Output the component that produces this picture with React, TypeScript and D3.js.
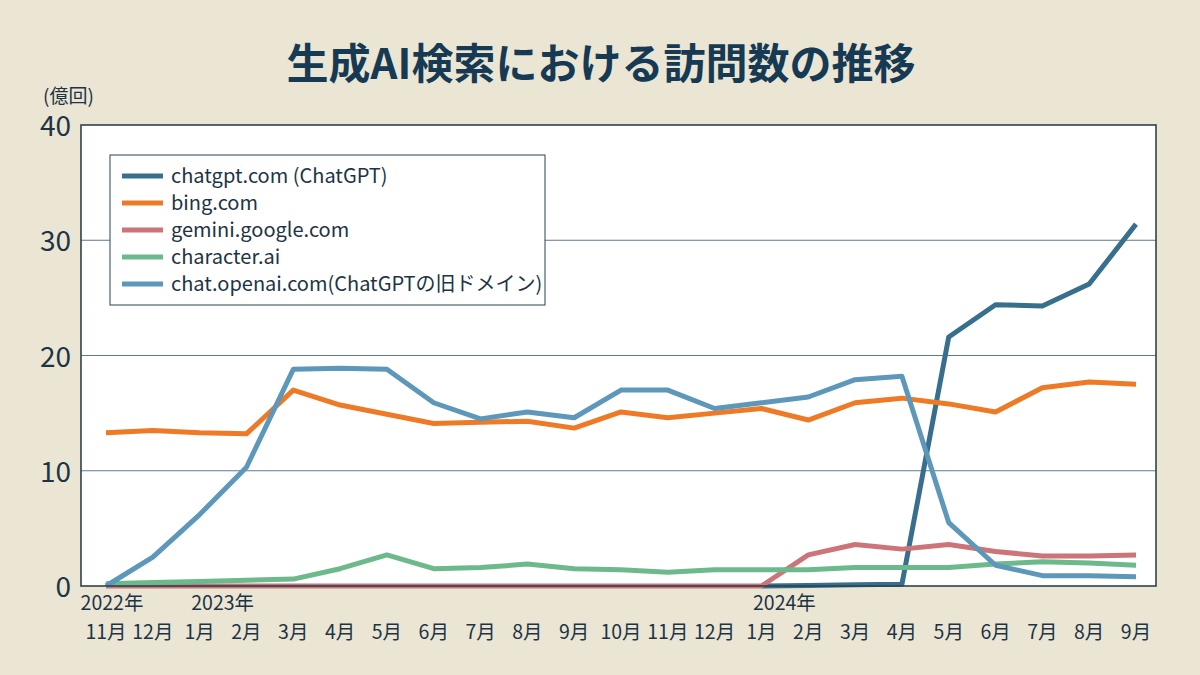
import React from "react";
import * as d3 from "d3";

const months = [
  "11月", "12月", "1月", "2月", "3月", "4月", "5月", "6月", "7月", "8月", "9月", "10月",
  "11月", "12月", "1月", "2月", "3月", "4月", "5月", "6月", "7月", "8月", "9月",
];
const yearLabels = [
  { index: 0, label: "2022年" },
  { index: 2, label: "2023年" },
  { index: 14, label: "2024年" },
];
const yTicks = [0, 10, 20, 30, 40];

const chatgptCom: (number | null)[] = [
  null, null, null, null, null, null, null, null, null, null, null, null, null, null,
  0, 0.05, 0.1, 0.15, 21.6, 24.4, 24.3, 26.2, 31.4,
];
const bingCom = [
  13.3, 13.5, 13.3, 13.2, 17.0, 15.7, 14.9, 14.1, 14.2, 14.3, 13.7, 15.1,
  14.6, 15.0, 15.4, 14.4, 15.9, 16.3, 15.8, 15.1, 17.2, 17.7, 17.5,
];
const geminiCom = [
  0, 0, 0, 0, 0, 0, 0, 0, 0, 0, 0, 0,
  0, 0, 0, 2.7, 3.6, 3.2, 3.6, 3.0, 2.6, 2.6, 2.7,
];
const characterAi = [
  0.2, 0.3, 0.4, 0.5, 0.6, 1.5, 2.7, 1.5, 1.6, 1.9, 1.5, 1.4,
  1.2, 1.4, 1.4, 1.4, 1.6, 1.6, 1.6, 1.9, 2.1, 2.0, 1.8,
];
const chatOpenai = [
  0, 2.5, 6.2, 10.3, 18.8, 18.9, 18.8, 15.9, 14.5, 15.1, 14.6, 17.0,
  17.0, 15.4, 15.9, 16.4, 17.9, 18.2, 5.5, 1.8, 0.9, 0.9, 0.8,
];

const seriesNames = [
  "chatgpt.com (ChatGPT)",
  "bing.com",
  "gemini.google.com",
  "character.ai",
  "chat.openai.com(ChatGPTの旧ドメイン)",
];
const seriesColors = ["#386f8d", "#ef7a26", "#cc7478", "#6cb98c", "#5d98ba"];
const seriesValues: (number | null)[][] = [chatgptCom, bingCom, geminiCom, characterAi, chatOpenai];

const W = 1200;
const H = 675;
const plot = { left: 81, right: 1156, top: 125, bottom: 586 };
const FONT = "'Noto Sans CJK JP', 'Noto Sans', sans-serif";
const TEXT = "#1c3446";

export default function App() {
  const x = d3
    .scaleLinear()
    .domain([0, months.length - 1])
    .range([106, 1136]);
  const y = d3.scaleLinear().domain([0, 40]).range([plot.bottom, plot.top]);
  const line = d3
    .line<number | null>()
    .defined((d) => d !== null)
    .x((_, i) => x(i))
    .y((d) => y(d as number));

  const drawOrder = [0, 1, 2, 3, 4];

  return (
    <svg
      width={W}
      height={H}
      style={{ position: "absolute", left: 0, top: 0, display: "block" }}
      fontFamily={FONT}
    >
      <rect x={0} y={0} width={W} height={H} fill="#ebe5d4" />
      <text
        x={601}
        y={79}
        textAnchor="middle"
        fontSize={42}
        fontWeight={700}
        fill="#163a53"
      >
        生成AI検索における訪問数の推移
      </text>
      <text x={43} y={103} fontSize={19} fill={TEXT}>
        (億回)
      </text>

      <rect
        x={plot.left}
        y={plot.top}
        width={plot.right - plot.left}
        height={plot.bottom - plot.top}
        fill="#ffffff"
      />
      {yTicks
        .filter((t) => t > 0 && t < 40)
        .map((t) => (
          <line
            key={t}
            x1={plot.left}
            x2={plot.right}
            y1={y(t)}
            y2={y(t)}
            stroke="#5f7b8b"
            strokeWidth={1}
          />
        ))}
      {yTicks.map((t) => (
        <text
          key={t}
          x={71}
          y={y(t) + 11}
          textAnchor="end"
          fontSize={28}
          fill={TEXT}
        >
          {t}
        </text>
      ))}

      {drawOrder.map((s) => (
        <path
          key={s}
          d={line(seriesValues[s]) || ""}
          fill="none"
          stroke={seriesColors[s]}
          strokeWidth={5}
          strokeLinejoin="round"
        />
      ))}

      <rect
        x={plot.left}
        y={plot.top}
        width={plot.right - plot.left}
        height={plot.bottom - plot.top}
        fill="none"
        stroke="#2b4350"
        strokeWidth={1.6}
      />

      {months.map((m, i) => (
        <text
          key={i}
          x={x(i)}
          y={639}
          textAnchor="middle"
          fontSize={19.5}
          fill={TEXT}
        >
          {m}
        </text>
      ))}
      {yearLabels.map((yl) => (
        <text
          key={yl.label}
          x={yl.index === 0 ? x(yl.index) + 6 : x(yl.index) + 23}
          y={610}
          textAnchor="middle"
          fontSize={19.5}
          fill={TEXT}
        >
          {yl.label}
        </text>
      ))}

      <g>
        <rect
          x={110}
          y={155}
          width={435}
          height={150}
          fill="#ffffff"
          stroke="#2b4350"
          strokeWidth={1}
        />
        {seriesNames.map((name, i) => (
          <g key={name} transform={`translate(0, ${176 + i * 27})`}>
            <line x1={122} x2={163} y1={0} y2={0} stroke={seriesColors[i]} strokeWidth={5} />
            <text x={171} y={7} fontSize={20} fill={TEXT}>
              {name}
            </text>
          </g>
        ))}
      </g>
    </svg>
  );
}
